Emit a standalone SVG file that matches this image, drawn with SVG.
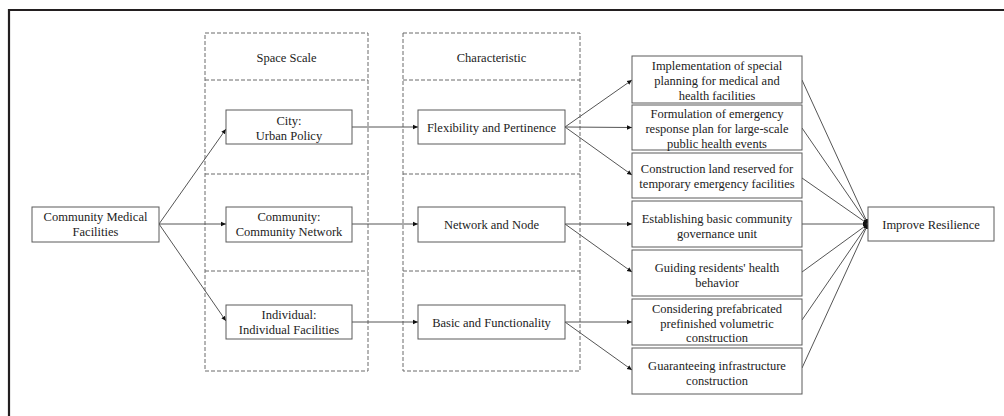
<svg xmlns="http://www.w3.org/2000/svg" width="1004" height="416" viewBox="0 0 1004 416">
<style>
text{font-family:"Liberation Serif","Times New Roman",serif;font-size:12.5px;fill:#222;text-anchor:middle}
.box{fill:#fff;stroke:#5a5a5a;stroke-width:1}
.dash{fill:none;stroke:#6a6a6a;stroke-width:1;stroke-dasharray:4 2}
.con{fill:none;stroke:#555;stroke-width:1;marker-end:url(#ah)}
</style>
<defs>
<marker id="ah" markerUnits="userSpaceOnUse" markerWidth="6" markerHeight="6" refX="5" refY="3" orient="auto">
<path d="M0,0.8 L5,3 L0,5.2 Z" fill="#111"/>
</marker>
</defs>
<rect width="1004" height="416" fill="#fff"/>
<path d="M9,416 V10 H1004" fill="none" stroke="#231f20" stroke-width="2.2"/>

<g id="col-space">
<rect class="dash" x="205" y="33" width="163" height="338"/>
<line class="dash" x1="205" y1="80" x2="368" y2="80"/>
<line class="dash" x1="205" y1="174" x2="368" y2="174"/>
<line class="dash" x1="205" y1="271" x2="368" y2="271"/>
<text x="286.5" y="62">Space Scale</text>
</g>
<g id="col-char">
<rect class="dash" x="403" y="33" width="177" height="338"/>
<line class="dash" x1="403" y1="80" x2="580" y2="80"/>
<line class="dash" x1="403" y1="174" x2="580" y2="174"/>
<line class="dash" x1="403" y1="271" x2="580" y2="271"/>
<text x="491.5" y="62">Characteristic</text>
</g>

<g id="connectors">
<line class="con" x1="159" y1="224" x2="226" y2="129"/>
<line class="con" x1="159" y1="224" x2="226" y2="224"/>
<line class="con" x1="159" y1="224" x2="226" y2="321"/>
<line class="con" x1="352" y1="127" x2="418" y2="127"/>
<line class="con" x1="352" y1="224" x2="418" y2="224"/>
<line class="con" x1="352" y1="322" x2="418" y2="322"/>
<line class="con" x1="565" y1="127" x2="632" y2="80"/>
<line class="con" x1="565" y1="127" x2="632" y2="127.5"/>
<line class="con" x1="565" y1="127" x2="632" y2="175"/>
<line class="con" x1="565" y1="224" x2="632" y2="224"/>
<line class="con" x1="565" y1="224" x2="632" y2="272"/>
<line class="con" x1="565" y1="322" x2="632" y2="322"/>
<line class="con" x1="565" y1="322" x2="632" y2="370"/>
<line class="con" x1="802" y1="80" x2="868" y2="224"/>
<line class="con" x1="802" y1="128" x2="868" y2="224"/>
<line class="con" x1="802" y1="178" x2="868" y2="224"/>
<line class="con" x1="802" y1="224" x2="868" y2="224"/>
<line class="con" x1="802" y1="272" x2="868" y2="224"/>
<line class="con" x1="802" y1="320" x2="868" y2="224"/>
<line class="con" x1="802" y1="368" x2="868" y2="224"/>
</g>

<g id="n-cmf"><rect class="box" x="32" y="207" width="127" height="35"/><text x="95.5" y="221">Community Medical</text><text x="95.5" y="236">Facilities</text></g>
<g id="n-city"><rect class="box" x="226" y="110" width="126" height="34"/><text x="289" y="124.5">City:</text><text x="289" y="139.5">Urban Policy</text></g>
<g id="n-community"><rect class="box" x="226" y="207" width="126" height="35"/><text x="289" y="221">Community:</text><text x="289" y="236">Community Network</text></g>
<g id="n-individual"><rect class="box" x="226" y="305" width="126" height="34"/><text x="289" y="319">Individual:</text><text x="289" y="334">Individual Facilities</text></g>

<g id="n-flex"><rect class="box" x="418" y="110" width="147" height="34"/><text x="491.5" y="131.5">Flexibility and Pertinence</text></g>
<g id="n-network"><rect class="box" x="418" y="207" width="147" height="35"/><text x="491.5" y="229">Network and Node</text></g>
<g id="n-basic"><rect class="box" x="418" y="305" width="147" height="34"/><text x="491.5" y="326.5">Basic and Functionality</text></g>

<g id="n-r1"><rect class="box" x="632" y="56" width="170" height="47"/><text x="717" y="69.5">Implementation of special</text><text x="717" y="84.5">planning for medical and</text><text x="717" y="99.5">health facilities</text></g>
<g id="n-r2"><rect class="box" x="632" y="105" width="170" height="45"/><text x="717" y="117.5">Formulation of emergency</text><text x="717" y="132.5">response plan for large-scale</text><text x="717" y="147.5">public health events</text></g>
<g id="n-r3"><rect class="box" x="632" y="153" width="170" height="45"/><text x="717" y="172.5">Construction land reserved for</text><text x="717" y="187.5">temporary emergency facilities</text></g>
<g id="n-r4"><rect class="box" x="632" y="201" width="170" height="46"/><text x="717" y="222.5">Establishing basic community</text><text x="717" y="237.5">governance unit</text></g>
<g id="n-r5"><rect class="box" x="632" y="250" width="170" height="46"/><text x="717" y="271.5">Guiding residents' health</text><text x="717" y="286.5">behavior</text></g>
<g id="n-r6"><rect class="box" x="632" y="299" width="170" height="46"/><text x="717" y="312.5">Considering prefabricated</text><text x="717" y="327.5">prefinished volumetric</text><text x="717" y="342">construction</text></g>
<g id="n-r7"><rect class="box" x="632" y="348" width="170" height="46"/><text x="717" y="369.5">Guaranteeing infrastructure</text><text x="717" y="384.5">construction</text></g>

<g id="n-improve"><rect class="box" x="868" y="207" width="126" height="34"/><text x="931" y="228.5">Improve Resilience</text></g>
</svg>
